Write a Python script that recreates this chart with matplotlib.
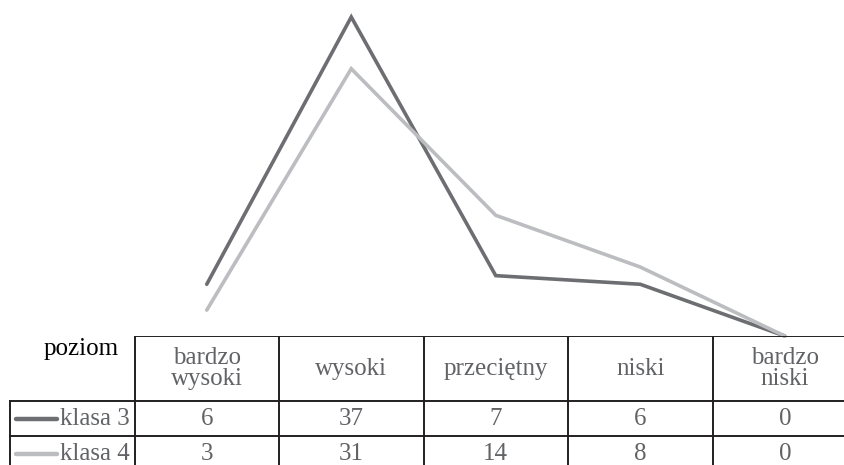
import matplotlib.pyplot as plt
from matplotlib.lines import Line2D

plt.rcParams['font.family'] = ['Liberation Serif', 'DejaVu Serif']

# data
levels = ['bardzo\nwysoki', 'wysoki', 'przeciętny', 'niski', 'bardzo\nniski']
series_names = ['klasa 3', 'klasa 4']
klasa3 = [6, 37, 7, 6, 0]
klasa4 = [3, 31, 14, 8, 0]
row_header = 'poziom'

colors = ['#6d6e71', '#bcbdc0']
text_col = '#626366'
grid_col = '#231f20'

W, H = 844, 465
fig = plt.figure(figsize=(W / 100, H / 100), dpi=100)

# layout in pixels
col_w = 144.5
x0 = 134.5
y_zero = 336
y_top = 17
row_h = [65, 35, 35]


def fx(px):
    return px / W


def fy(py):
    return 1 - py / H


# line chart, x shares columns with the table
ax = fig.add_axes([fx(x0), fy(y_zero), fx(col_w * 5), (y_zero - y_top) / H])
ax.set_xlim(-0.5, 4.5)
ax.set_ylim(0, 37)
ax.axis('off')
xs = range(len(levels))
for vals, c in zip([klasa3, klasa4], colors):
    ax.plot(xs, vals, color=c, lw=2.6, solid_capstyle='round',
            solid_joinstyle='miter', clip_on=False)

# table below the chart, in the same x units; y counts pixels downward
tb_h = sum(row_h)
tab = fig.add_axes([0, fy(y_zero + tb_h), 1, tb_h / H])
tab.set_xlim(0, W)
tab.set_ylim(tb_h, 0)
tab.axis('off')

lw = 1.4
xr = x0 + col_w * 5
ys = [0, row_h[0], row_h[0] + row_h[1], tb_h]
# horizontal lines
tab.add_line(Line2D([x0, xr], [ys[0]] * 2, color=grid_col, lw=lw))
for y in ys[1:3]:
    tab.add_line(Line2D([10, xr], [y, y], color=grid_col, lw=lw))
# vertical lines
for i in range(6):
    xv = x0 + i * col_w
    tab.add_line(Line2D([xv, xv], [0, tb_h], color=grid_col, lw=lw))
tab.add_line(Line2D([10, 10], [ys[1], tb_h], color=grid_col, lw=lw))

fs = 18
tab.text(x0 - 16, 13, row_header, ha='right', va='center', fontsize=fs, color='black')
for i, lab in enumerate(levels):
    cx = x0 + (i + 0.5) * col_w
    tab.text(cx, row_h[0] / 2, lab, ha='center', va='center', fontsize=fs,
             color=text_col, linespacing=0.95)

for r, (name, vals, c) in enumerate(zip(series_names, [klasa3, klasa4], colors)):
    cy = ys[r + 1] + row_h[r + 1] / 2
    tab.add_line(Line2D([16, 57], [cy, cy], color=c, lw=3.2, solid_capstyle='round'))
    tab.text(x0 - 5, cy, name, ha='right', va='center', fontsize=fs, color=text_col)
    for i, v in enumerate(vals):
        cx = x0 + (i + 0.5) * col_w
        tab.text(cx, cy, str(v), ha='center', va='center', fontsize=fs, color=text_col)

fig.savefig('out.png', dpi=100)
